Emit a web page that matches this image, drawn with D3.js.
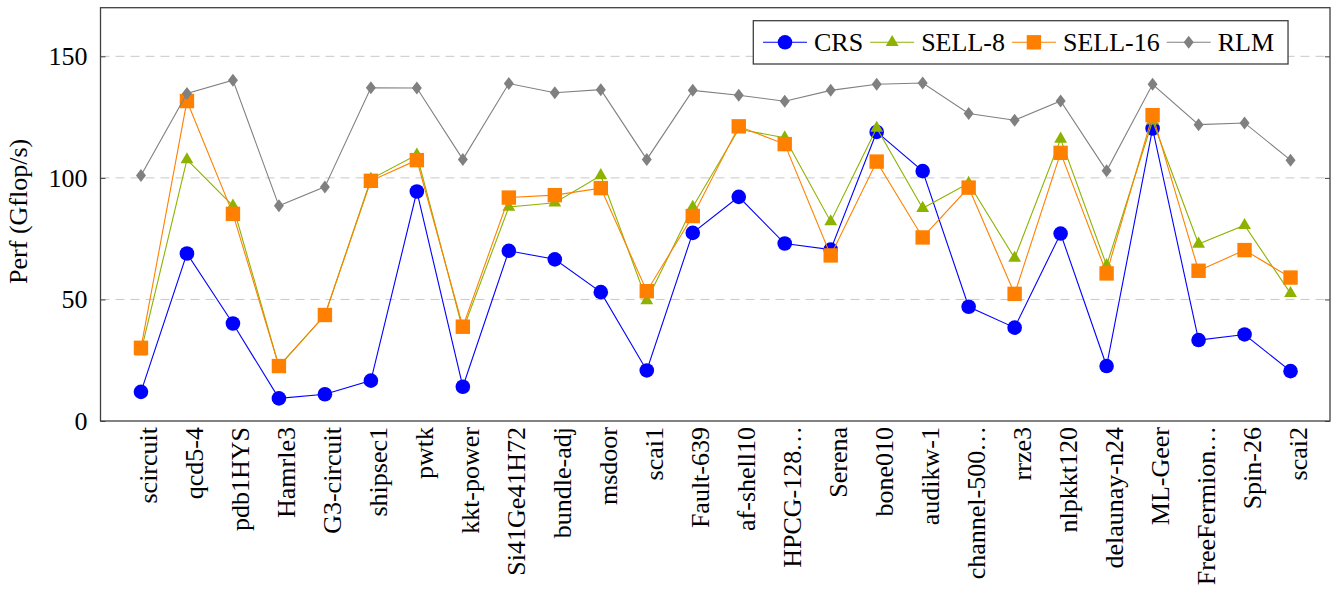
<!DOCTYPE html>
<html>
<head>
<meta charset="utf-8">
<script src="https://cdn.jsdelivr.net/npm/d3@7"></script>
<style>
  html, body { margin: 0; padding: 0; background: #fff; }
  svg { display: block; }
  text { font-family: "Liberation Serif", "Times New Roman", serif; fill: #000; }
</style>
</head>
<body>
<svg id="chart" width="1336" height="589"></svg>
<script>
// ---- data ----
const categories = ["scircuit","qcd5-4","pdb1HYS","Hamrle3","G3-circuit","shipsec1","pwtk","kkt-power",
  "Si41Ge41H72","bundle-adj","msdoor","scai1","Fault-639","af-shell10","HPCG-128.\u200A.\u200A.","Serena","bone010",
  "audikw-1","channel-500.\u200A.\u200A.","rrze3","nlpkkt120","delaunay-n24","ML-Geer","FreeFermion.\u200A.\u200A.","Spin-26","scai2"];
const crs    = [12.0, 68.9, 40.1, 9.3, 11.0, 16.6, 94.4, 14.1, 70.0, 66.5, 53.0, 20.8, 77.4, 92.2, 73.0, 70.5, 118.9, 102.8, 47.0, 38.4, 77.1, 22.6, 120.3, 33.3, 35.6, 20.5];
const sell8  = [28.5, 107.5, 88.5, 22.5, 43.5, 99.5, 109.5, 37.5, 88.0, 89.8, 101.0, 49.5, 88.0, 120.0, 116.5, 82.0, 120.5, 87.5, 97.8, 67.0, 116.0, 64.0, 123.5, 72.8, 80.5, 52.5];
const sell16 = [30.1, 131.6, 85.2, 22.6, 43.6, 98.8, 107.3, 38.8, 91.9, 92.9, 95.8, 53.4, 84.3, 121.2, 113.9, 68.1, 106.7, 75.5, 96.0, 52.3, 110.3, 60.7, 125.8, 61.8, 70.3, 59.0];
const rlm    = [101.0, 134.7, 140.2, 88.5, 96.3, 137.1, 137.0, 107.6, 138.8, 135.0, 136.3, 107.6, 136.0, 134.0, 131.5, 136.0, 138.5, 139.0, 126.5, 123.7, 131.6, 102.9, 138.5, 121.9, 122.6, 107.3];
const yTicks = [0, 50, 100, 150];
const seriesNames = ["CRS", "SELL-8", "SELL-16", "RLM"];
const seriesColors = ["#0000ff", "#8db300", "#ff8000", "#808080"];
const seriesShapes = ["circle", "triangle", "square", "diamond"];

(function () {
// ---- layout ----
const svg = d3.select("#chart");
const pLeft = 100.5, pRight = 1330, pTop = 7.7, pBottom = 421;
const x = d3.scalePoint().domain(categories).range([pLeft, 1331]).padding(0.88);
const y = d3.scaleLinear().domain([0, 170]).range([pBottom, pTop]);

// grid lines
svg.append("g").selectAll("line").data(yTicks.filter(d => d > 0)).join("line")
  .attr("x1", pLeft).attr("x2", pRight)
  .attr("y1", d => y(d)).attr("y2", d => y(d))
  .attr("stroke", "#c8c8c8").attr("stroke-width", 1)
  .attr("stroke-dasharray", "9,6");

// y axis (left) with inward ticks
const yAxisL = d3.axisLeft(y).tickValues(yTicks).tickSize(-5).tickPadding(13);
const gL = svg.append("g").attr("transform", `translate(${pLeft},0)`).call(yAxisL);
gL.select(".domain").remove();
gL.selectAll(".tick line").attr("stroke", "#404040").attr("stroke-width", 1);
gL.selectAll(".tick text").attr("font-size", 26).attr("font-family", "Liberation Serif").attr("fill", "#000");

const yAxisR = d3.axisRight(y).tickValues(yTicks).tickSize(-5).tickFormat("");
const gR = svg.append("g").attr("transform", `translate(${pRight},0)`).call(yAxisR);
gR.select(".domain").remove();
gR.selectAll(".tick line").attr("stroke", "#404040").attr("stroke-width", 1);

// x labels
const xAxis = d3.axisBottom(x).tickSize(0).tickPadding(0);
const gX = svg.append("g").attr("transform", `translate(0,${pBottom})`).call(xAxis);
gX.select(".domain").remove();
gX.selectAll(".tick text")
  .attr("font-size", 26).attr("font-family", "Liberation Serif").attr("fill", "#000")
  .attr("text-anchor", "end")
  .attr("transform", "rotate(-90)")
  .attr("x", -6).attr("y", 0).attr("dy", 16);

// y label
svg.append("text")
  .attr("transform", `translate(27,${(pTop + pBottom) / 2 - 3}) rotate(-90)`)
  .attr("text-anchor", "middle")
  .attr("font-size", 26)
  .text("Perf (Gflop/s)");

// marker generator
function drawMarker(g, shape, color, cx, cy) {
  if (shape === "circle") {
    g.append("circle").attr("cx", cx).attr("cy", cy).attr("r", 7.3).attr("fill", color);
  } else if (shape === "square") {
    g.append("rect").attr("x", cx - 7.2).attr("y", cy - 7.2).attr("width", 14.4).attr("height", 14.4).attr("fill", color);
  } else if (shape === "triangle") {
    const r = 7.4;
    g.append("path").attr("d", `M${cx},${cy - r}L${cx + 0.866 * r},${cy + 0.5 * r}L${cx - 0.866 * r},${cy + 0.5 * r}Z`).attr("fill", color);
  } else if (shape === "diamond") {
    g.append("path").attr("d", `M${cx},${cy - 6.5}L${cx + 5},${cy}L${cx},${cy + 6.5}L${cx - 5},${cy}Z`).attr("fill", color);
  }
}

const allSeries = [crs, sell8, sell16, rlm];
const line = d3.line().x((d, i) => x(categories[i])).y(d => y(d));
allSeries.forEach((vals, si) => {
  const g = svg.append("g");
  g.append("path").datum(vals).attr("d", line)
    .attr("fill", "none").attr("stroke", seriesColors[si]).attr("stroke-width", 1.1);
  vals.forEach((v, i) => drawMarker(g, seriesShapes[si], seriesColors[si], x(categories[i]), y(v)));
});

// frame
svg.append("rect").attr("x", pLeft).attr("y", pTop).attr("width", pRight - pLeft).attr("height", pBottom - pTop)
  .attr("fill", "none").attr("stroke", "#404040").attr("stroke-width", 1.3);

// legend
const legG = svg.append("g");
const legRect = legG.append("rect").attr("fill", "#fff").attr("stroke", "#404040").attr("stroke-width", 1.3);
let cursor = 763;
const ly = 42.3;
seriesNames.forEach((name, si) => {
  legG.append("line").attr("x1", cursor).attr("x2", cursor + 44).attr("y1", ly).attr("y2", ly)
    .attr("stroke", seriesColors[si]).attr("stroke-width", 1.1);
  drawMarker(legG, seriesShapes[si], seriesColors[si], cursor + 22, ly);
  const t = legG.append("text").attr("x", cursor + 51).attr("y", ly).attr("dy", "0.34em")
    .attr("font-size", 26).text(name);
  cursor = cursor + 51 + t.node().getComputedTextLength() + 7;
});
legRect.attr("x", 753.3).attr("y", 20.7).attr("width", cursor + 7 - 753.3).attr("height", 43.3);
})();
</script>
</body>
</html>
